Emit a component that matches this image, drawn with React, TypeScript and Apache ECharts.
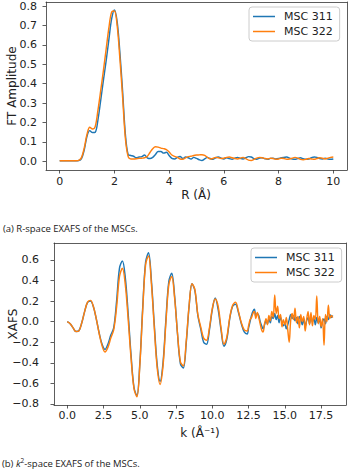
import React, { useEffect, useRef } from "react";
import * as echarts from "echarts";

const SERIES_NAMES = ["MSC 311", "MSC 322"];
const COLORS = ["#1f77b4", "#ff7f0e"];

// R-space (FT amplitude), R grid 0..10 step 0.1
const R_START = 0;
const R_STEP = 0.1;
const rMsc311 = [
  0.003, 0.003, 0.003, 0.003, 0.003, 0.003, 0.003, 0.004, 0.015, 0.06,
  0.13, 0.158, 0.148, 0.15, 0.215, 0.315, 0.42, 0.52, 0.63, 0.735,
  0.78, 0.72, 0.56, 0.36, 0.14, 0.035, 0.03, 0.026, 0.018, 0.022,
  0.024, 0.032, 0.018, 0.014, 0.02, 0.035, 0.05, 0.05, 0.042, 0.046,
  0.03, 0.015, 0.012, 0.02, 0.025, 0.015, 0.022, 0.018, 0.012, 0.02,
  0.015, 0.008, 0.004, 0.012, 0.02, 0.014, 0.01, 0.018, 0.022, 0.016,
  0.012, 0.018, 0.014, 0.01, 0.016, 0.02, 0.015, 0.012, 0.018, 0.024,
  0.022, 0.014, 0.01, 0.016, 0.018, 0.013, 0.01, 0.015, 0.016, 0.012,
  0.014, 0.018, 0.02, 0.022, 0.016, 0.012, 0.01, 0.014, 0.018, 0.013,
  0.01, 0.012, 0.018, 0.022, 0.02, 0.014, 0.012, 0.016, 0.012, 0.01,
  0.012,
];
const rMsc322 = [
  0.003, 0.003, 0.003, 0.003, 0.003, 0.003, 0.003, 0.005, 0.02, 0.07,
  0.14, 0.175, 0.166, 0.18, 0.265, 0.365, 0.47, 0.58, 0.69, 0.77,
  0.775, 0.7, 0.53, 0.33, 0.12, 0.025, 0.012, 0.012, 0.013, 0.015,
  0.016, 0.018, 0.025, 0.045, 0.065, 0.075, 0.073, 0.068, 0.065, 0.06,
  0.048, 0.032, 0.025, 0.02, 0.012, 0.01, 0.018, 0.024, 0.026, 0.03,
  0.032, 0.033, 0.034, 0.03, 0.02, 0.012, 0.014, 0.02, 0.018, 0.014,
  0.016, 0.02, 0.022, 0.018, 0.014, 0.012, 0.016, 0.02, 0.014, 0.006,
  0.004, 0.01, 0.016, 0.02, 0.018, 0.014, 0.012, 0.016, 0.014, 0.01,
  0.012, 0.016, 0.014, 0.01, 0.012, 0.016, 0.02, 0.016, 0.01, 0.008,
  0.01, 0.014, 0.012, 0.01, 0.014, 0.018, 0.016, 0.012, 0.016, 0.02,
  0.022,
];
const rTicks = [0, 2, 4, 6, 8, 10];
const ftTicks = [0, 0.1, 0.2, 0.3, 0.4, 0.5, 0.6, 0.7, 0.8];

// k-space (k^2 weighted XAFS): 0..12.4 step 0.2, then 12.5..18.3 step 0.1
const K_SMOOTH_START = 0;
const K_SMOOTH_STEP = 0.2;
const kSmooth311 = [
  0.0, -0.02, -0.06, -0.095, -0.088, -0.011, 0.1, 0.187, 0.2, 0.145,
  0.028, -0.11, -0.22, -0.27, -0.22, -0.13, -0.06, 0.2, 0.52, 0.59,
  0.43, 0.075, -0.33, -0.64, -0.72, -0.41, 0.135, 0.58, 0.67, 0.4,
  -0.03, -0.42, -0.58, -0.4, 0.02, 0.39, 0.47, 0.25, -0.12, -0.41,
  -0.45, -0.21, 0.15, 0.37, 0.3, 0.06, -0.07, -0.2, -0.22, -0.08,
  0.12, 0.23, 0.12, -0.08, -0.24, -0.17, 0.03, 0.15, 0.17, 0.09,
  -0.02, -0.1, -0.12,
];
const kSmooth322 = [
  0.0, -0.02, -0.06, -0.095, -0.09, -0.01, 0.1, 0.19, 0.207, 0.148,
  0.028, -0.115, -0.235, -0.295, -0.25, -0.16, -0.08, 0.14, 0.44, 0.52,
  0.36, 0.02, -0.36, -0.65, -0.73, -0.43, 0.11, 0.555, 0.64, 0.37,
  -0.06, -0.45, -0.61, -0.43, -0.01, 0.36, 0.44, 0.23, -0.115, -0.39,
  -0.43, -0.19, 0.16, 0.37, 0.31, 0.07, -0.05, -0.16, -0.18, -0.06,
  0.13, 0.22, 0.15, -0.06, -0.22, -0.15, 0.04, 0.16, 0.19, 0.1,
  -0.01, -0.08, -0.09,
];
const K_NOISY_START = 12.5;
const K_NOISY_STEP = 0.1;
const kNoisy311 = [
  -0.06, 0.0, 0.06, 0.1, 0.12, 0.05, 0.08, 0.06, 0.0, -0.04,
  -0.07, -0.03, 0.01, -0.02, 0.03, -0.01, 0.05, 0.03, 0.08, 0.02,
  0.06, -0.01, 0.04, 0.0, -0.04, -0.02, -0.07, -0.03, 0.02, 0.07,
  0.03, 0.06, 0.01, 0.04, -0.02, 0.05, 0.02, -0.03, 0.03, -0.05,
  0.01, 0.04, -0.02, 0.06, 0.0, 0.03, -0.03, 0.04, -0.01, 0.02,
  -0.06, 0.0, 0.03, -0.02, 0.05, 0.02, 0.07, 0.04, 0.06,
];
const kNoisy322 = [
  -0.04, 0.02, 0.04, 0.08, 0.1, 0.03, 0.09, 0.04, -0.02, -0.08,
  -0.1, -0.02, 0.03, -0.03, 0.06, 0.01, 0.1, 0.04, 0.26, 0.08,
  0.15, 0.03, 0.07, -0.05, 0.02, -0.03, 0.04, -0.08, -0.2, 0.01,
  0.08, 0.02, 0.13, -0.01, 0.05, -0.06, 0.07, 0.0, 0.05, -0.09,
  0.02, 0.1, -0.03, 0.09, -0.04, 0.06, 0.02, 0.25, -0.02, 0.05,
  -0.05, 0.03, -0.23, 0.07, 0.0, 0.16, 0.03, 0.06, 0.04,
];
const kTicks = [0, 2.5, 5, 7.5, 10, 12.5, 15, 17.5];
const xafsTicks = [-0.8, -0.6, -0.4, -0.2, 0, 0.2, 0.4, 0.6];

const FONT = "DejaVu Sans";
const TEXT_COLOR = "#222";
const FRAME_COLOR = "#333";

function toPairs(start: number, step: number, values: number[]) {
  return values.map((v, i) => [Math.round((start + i * step) * 1000) / 1000, v]);
}

function fmt(v: number) {
  const s = Math.abs(v).toFixed(1);
  return v < -1e-9 ? "\u2212" + s : s;
}

function fmtInt(v: number) {
  return String(Math.round(v));
}

export default function App() {
  const ref = useRef<HTMLDivElement>(null);

  useEffect(() => {
    if (!ref.current) return;
    const chart = echarts.init(ref.current, null, { renderer: "svg" });

    const axisLabelBase = {
      color: TEXT_COLOR,
      fontFamily: FONT,
      fontSize: 11,
    };
    const tickBase = {
      show: true,
      inside: false,
      length: 3.5,
      lineStyle: { color: FRAME_COLOR, width: 0.8 },
    };
    const lineBase = {
      show: true,
      onZero: false,
      lineStyle: { color: FRAME_COLOR, width: 0.8 },
    };

    const lineSeries = (
      name: string,
      color: string,
      data: number[][],
      idx: number
    ) => ({
      type: "line",
      name,
      xAxisIndex: idx,
      yAxisIndex: idx,
      data,
      symbol: "none",
      showSymbol: false,
      smooth: 0.35,
      lineStyle: { color, width: 1.45 },
      itemStyle: { color },
      z: name === SERIES_NAMES[1] ? 3 : 2,
    });

    const k311 = toPairs(K_SMOOTH_START, K_SMOOTH_STEP, kSmooth311).concat(
      toPairs(K_NOISY_START, K_NOISY_STEP, kNoisy311)
    );
    const k322 = toPairs(K_SMOOTH_START, K_SMOOTH_STEP, kSmooth322).concat(
      toPairs(K_NOISY_START, K_NOISY_STEP, kNoisy322)
    );

    const legendBase = {
      orient: "vertical",
      data: SERIES_NAMES,
      icon: "rect",
      itemWidth: 22,
      itemHeight: 1.5,
      itemGap: 4,
      padding: [4, 7, 4, 4],
      borderColor: "#cccccc",
      borderWidth: 1,
      borderRadius: 3,
      backgroundColor: "rgba(255,255,255,0.8)",
      textStyle: {
        color: TEXT_COLOR,
        fontFamily: FONT,
        fontSize: 11,
        padding: [0, 0, 0, 4],
      },
      selectedMode: false,
    };

    const frameAxis = (gridIndex: number, position: string, min: number, max: number) => ({
      type: "value",
      gridIndex,
      position,
      min,
      max,
      axisLine: lineBase,
      axisTick: { show: false },
      axisLabel: { show: false },
      splitLine: { show: false },
    });

    const option: any = {
      animation: false,
      backgroundColor: "#ffffff",
      grid: [
        { left: 46, top: 2, width: 301, height: 168 },
        { left: 54, top: 243, width: 292, height: 162 },
      ],
      xAxis: [
        {
          type: "value",
          gridIndex: 0,
          position: "bottom",
          min: -0.5,
          max: 10.5,
          axisLine: lineBase,
          splitLine: { show: false },
          axisTick: { ...tickBase, customValues: rTicks },
          axisLabel: {
            ...axisLabelBase,
            margin: 6,
            customValues: rTicks,
            formatter: (v: number) => fmtInt(v),
          },
        },
        {
          type: "value",
          gridIndex: 1,
          position: "bottom",
          min: -0.915,
          max: 19.215,
          axisLine: lineBase,
          splitLine: { show: false },
          axisTick: { ...tickBase, customValues: kTicks },
          axisLabel: {
            ...axisLabelBase,
            margin: 5,
            customValues: kTicks,
            formatter: (v: number) => fmt(v),
          },
        },
        frameAxis(0, "top", -0.5, 10.5),
        frameAxis(1, "top", -0.915, 19.215),
      ],
      yAxis: [
        {
          type: "value",
          gridIndex: 0,
          position: "left",
          min: -0.045,
          max: 0.821,
          axisLine: lineBase,
          splitLine: { show: false },
          axisTick: { ...tickBase, customValues: ftTicks },
          axisLabel: {
            ...axisLabelBase,
            margin: 9,
            customValues: ftTicks,
            formatter: (v: number) => fmt(v),
          },
        },
        {
          type: "value",
          gridIndex: 1,
          position: "left",
          min: -0.81,
          max: 0.765,
          axisLine: lineBase,
          splitLine: { show: false },
          axisTick: { ...tickBase, customValues: xafsTicks },
          axisLabel: {
            ...axisLabelBase,
            margin: 15,
            customValues: xafsTicks,
            formatter: (v: number) => fmt(v),
          },
        },
        frameAxis(0, "right", -0.045, 0.821),
        frameAxis(1, "right", -0.81, 0.765),
      ],
      legend: [
        { ...legendBase, left: 249, top: 7 },
        { ...legendBase, left: 251, top: 248 },
      ],
      series: [
        lineSeries(SERIES_NAMES[0], COLORS[0], toPairs(R_START, R_STEP, rMsc311), 0),
        lineSeries(SERIES_NAMES[1], COLORS[1], toPairs(R_START, R_STEP, rMsc322), 0),
        lineSeries(SERIES_NAMES[0], COLORS[0], k311, 1),
        lineSeries(SERIES_NAMES[1], COLORS[1], k322, 1),
      ],
      graphic: [
        {
          type: "text",
          x: 12,
          y: 86,
          rotation: Math.PI / 2,
          style: {
            text: "FT Amplitude",
            fill: TEXT_COLOR,
            font: `12px "${FONT}"`,
            align: "center",
            verticalAlign: "middle",
          },
        },
        {
          type: "text",
          x: 196,
          y: 195,
          style: {
            text: "R (Å)",
            fill: TEXT_COLOR,
            font: `12px "${FONT}"`,
            align: "center",
            verticalAlign: "middle",
          },
        },
        {
          type: "text",
          x: 12.5,
          y: 324,
          rotation: Math.PI / 2,
          style: {
            text: "XAFS",
            fill: TEXT_COLOR,
            font: `12px "${FONT}"`,
            align: "center",
            verticalAlign: "middle",
          },
        },
        {
          type: "text",
          x: 200,
          y: 433,
          style: {
            text: "k (Å\u207B\u00B9)",
            fill: TEXT_COLOR,
            font: `12px "${FONT}"`,
            align: "center",
            verticalAlign: "middle",
          },
        },
        {
          type: "text",
          x: 3,
          y: 228,
          style: {
            text: "(a) R-space EXAFS of the MSCs.",
            fill: "#1a1a1a",
            font: `9.5px "Open Sans"`,
            align: "left",
            verticalAlign: "middle",
          },
        },
        {
          type: "text",
          x: 2,
          y: 463,
          style: {
            text: "{n|(b) }{i|k}{s|2}{n|-space EXAFS of the MSCs.}",
            align: "left",
            verticalAlign: "middle",
            rich: {
              n: { fontFamily: "Open Sans", fontSize: 9.5, fill: "#1a1a1a" },
              i: {
                fontFamily: "Open Sans",
                fontStyle: "italic",
                fontSize: 9.5,
                fill: "#1a1a1a",
              },
              s: {
                fontFamily: "Open Sans",
                fontSize: 6.5,
                fill: "#1a1a1a",
                padding: [0, 0, 5, 0],
              },
            },
          },
        },
      ],
    };

    chart.setOption(option);
    return () => chart.dispose();
  }, []);

  return (
    <div
      ref={ref}
      style={{ position: "absolute", left: 0, top: 0, width: 349, height: 471 }}
    />
  );
}
